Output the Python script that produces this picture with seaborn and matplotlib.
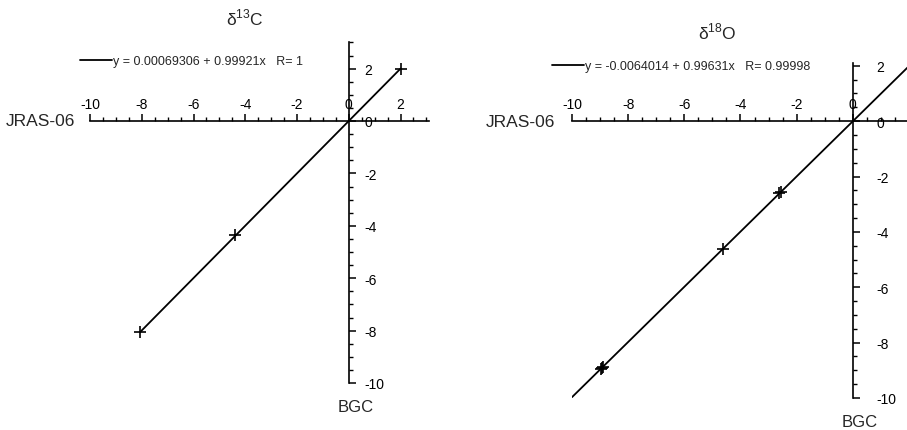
import numpy as np
import matplotlib
matplotlib.use("Agg")
import matplotlib.pyplot as plt
import matplotlib.transforms as mtransforms
from matplotlib.ticker import MultipleLocator
import seaborn as sns

sns.set_style("white")
plt.rcParams['font.family'] = ['Liberation Sans', 'DejaVu Sans']
plt.rcParams['mathtext.fontset'] = 'custom'
plt.rcParams['mathtext.rm'] = 'Liberation Sans'

# ---------------- 数据 ----------------
c13_bgc = [-8.05, -4.38, 2.0]        # x (BGC)
c13_jras = [-8.04, -4.37, 1.97]      # y (JRAS-06)
c13_label = "y = 0.00069306 + 0.99921x   R= 1"
c13_a, c13_b = 0.00069306, 0.99921
c13_fit_x = [-8.05, 2.0]

o18_bgc = [-2.62, -2.56, -4.63, -8.92, -8.97, -8.90]
o18_jras = [-2.60, -2.55, -4.62, -8.93, -8.96, -8.88]
o18_label = "y = -0.0064014 + 0.99631x   R= 0.99998"
o18_a, o18_b = -0.0064014, 0.99631
o18_fit_x = [-10.0, 3.5]

W, H = 907, 431


def draw_panel(ax, xs, ys, a, b, label, fit_x, xlim, ylim, xlab_max,
               title, title_pos, leg_pos, ypad):
    fx = np.array(fit_x)
    sns.lineplot(x=fx, y=a + b * fx, ax=ax, color="black", lw=1.3, label=label)
    sns.scatterplot(x=xs, y=ys, ax=ax, marker="+", s=70, color="black",
                    linewidth=1.2, zorder=3)
    for s in ["left", "bottom"]:
        ax.spines[s].set_visible(False)
    ax.spines["top"].set_position(("data", 0))
    ax.spines["right"].set_position(("data", 0))
    for s in ["top", "right"]:
        ax.spines[s].set_color("black")
        ax.spines[s].set_linewidth(1.2)
    ax.xaxis.set_ticks_position("top")
    ax.yaxis.set_ticks_position("right")
    ax.xaxis.set_minor_locator(MultipleLocator(0.5))
    ax.yaxis.set_minor_locator(MultipleLocator(0.5))
    ax.tick_params(which="major", direction="out", length=5, width=1.1,
                   labelsize=10, colors="black", pad=2.5)
    ax.tick_params(which="minor", direction="out", length=3, width=1.0, colors="black")
    ax.tick_params(axis="y", pad=ypad)
    xt = np.arange(xlim[0], xlab_max + 0.01, 2)
    ax.set_xticks(xt)
    ax.set_xticklabels([f"{v:g}" for v in xt])
    yt = np.arange(ylim[0], 2.01, 2)
    ax.set_yticks(yt)
    ax.set_yticklabels([f"{v:g}" for v in yt])
    ax.set_xlim(*xlim)
    ax.set_ylim(*ylim)
    ax.grid(False)
    ax.set_xlabel("")
    ax.set_ylabel("")

    ax.text(title_pos[0], title_pos[1], title, transform=ax.transAxes,
            ha="center", va="center", fontsize=12.5)
    tr = mtransforms.blended_transform_factory(ax.transAxes, ax.transData)
    ax.text(-0.045, 0, "JRAS-06", transform=tr, ha="right", va="center", fontsize=12.5)
    ax.annotate("BGC", xy=(0, ylim[0]), xytext=(5, -17), textcoords="offset points",
                ha="center", va="center", fontsize=12)
    ax.legend(loc="center left", bbox_to_anchor=leg_pos, frameon=False,
              fontsize=9, handlelength=2.55, handletextpad=0.1, borderpad=0,
              borderaxespad=0)


fig = plt.figure(figsize=(W / 100, H / 100), dpi=100)

# 左图 δ13C
ax1 = fig.add_axes([90 / W, (H - 384) / H, 339 / W, 340.6 / H])
draw_panel(ax1, c13_bgc, c13_jras, c13_a, c13_b, c13_label, c13_fit_x,
           (-10, 3.1), (-10, 3), 2, "δ$^{13}$C", (0.457, 1.075), (-0.03, 0.945), 6)

# 右图 δ18O
ax2 = fig.add_axes([572 / W, (H - 399) / H, 365 / W, 335 / H])
draw_panel(ax2, o18_bgc, o18_jras, o18_a, o18_b, o18_label, o18_fit_x,
           (-10, 3), (-10, 2.1), 0, "δ$^{18}$O", (0.397, 1.095), (-0.055, 0.991), 12)

fig.savefig("out.png", dpi=100)
